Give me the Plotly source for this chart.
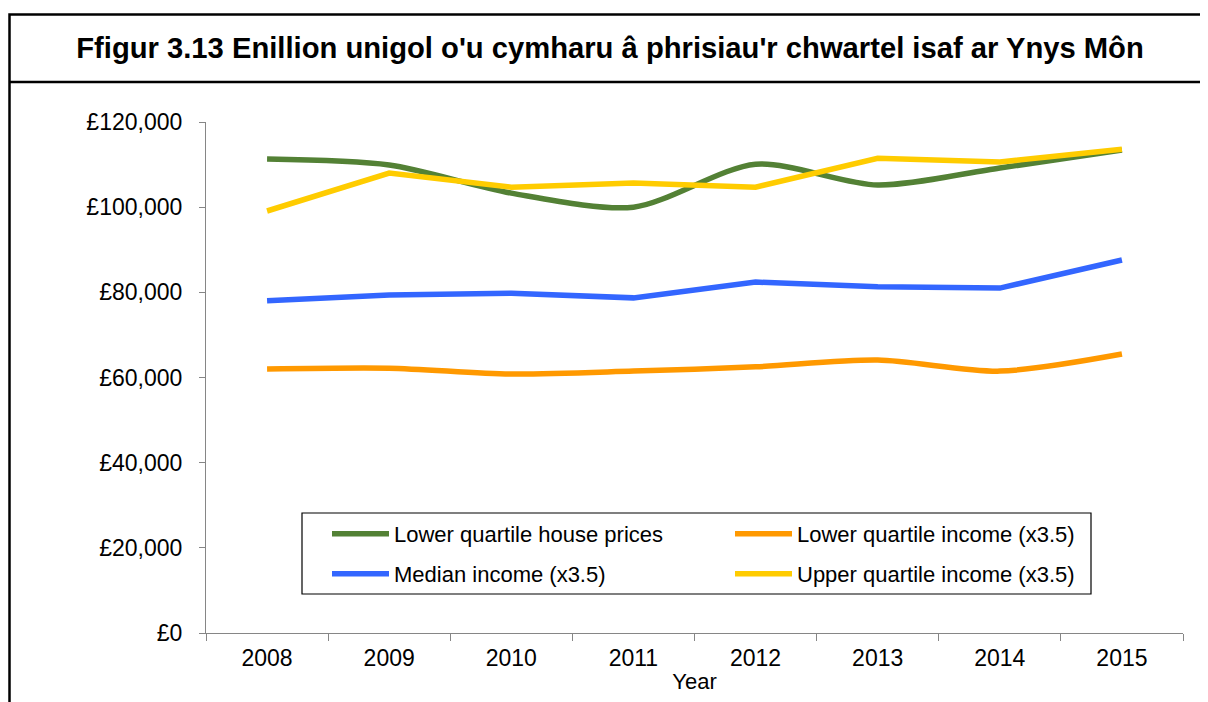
import plotly.graph_objects as go

# data
years = ["2008", "2009", "2010", "2011", "2012", "2013", "2014", "2015"]
house_prices_lq = [111300, 109900, 103300, 100000, 110100, 105200, 109200, 113400]
income_lq = [62000, 62200, 60800, 61500, 62500, 64100, 61500, 65500]
income_median = [78000, 79400, 79800, 78700, 82400, 81300, 81000, 87600]
income_uq = [99100, 108000, 104700, 105700, 104700, 111500, 110600, 113600]
y_ticks = [0, 20000, 40000, 60000, 80000, 100000, 120000]
y_labels = ["£0", "£20,000", "£40,000", "£60,000", "£80,000", "£100,000", "£120,000"]

FONT = "Arial, Liberation Sans, sans-serif"
OFF = 8  # page body margin
W, H = 1208 - OFF, 702 - OFF
# plot area in screen pixels
L, R, T, B = 206, 1183, 122, 633


def px_x(p):
    return (p - L) / (R - L)


def px_y(p):
    return (B - p) / (B - T)


fig = go.Figure()

# legend rows: first two traces in the top row, last two in the bottom row
series = [
    ("Lower quartile house prices", house_prices_lq, "#538135", "spline", "legend"),
    ("Lower quartile income (x3.5)", income_lq, "#FF9900", "spline", "legend"),
    ("Median income (x3.5)", income_median, "#3366FF", "linear", "legend2"),
    ("Upper quartile income (x3.5)", income_uq, "#FFCC00", "linear", "legend2"),
]
for name, vals, col, shape, leg in series:
    fig.add_trace(go.Scatter(
        x=years, y=vals, name=name, mode="lines", legend=leg,
        line=dict(color=col, width=5.5, shape=shape, smoothing=0.8),
    ))

# chart frame and title box
fig.add_shape(type="rect", xref="paper", yref="paper",
              x0=px_x(9.5), x1=px_x(1220), y0=px_y(720), y1=px_y(14.5),
              line=dict(color="black", width=2.5), layer="below")
fig.add_shape(type="line", xref="paper", yref="paper",
              x0=px_x(9.5), x1=px_x(1220), y0=px_y(82), y1=px_y(82),
              line=dict(color="black", width=2.5))
# legend box
fig.add_shape(type="rect", xref="paper", yref="paper",
              x0=px_x(302), x1=px_x(1091), y0=px_y(594), y1=px_y(513),
              line=dict(color="black", width=1.2), fillcolor="white", layer="above")

leg_common = dict(
    orientation="h", entrywidth=331, xanchor="left", yanchor="middle",
    bgcolor="rgba(0,0,0,0)", borderwidth=0, font=dict(size=22), itemwidth=57,
)

fig.update_layout(
    width=W, height=H,
    margin=dict(l=L - OFF, r=W - (R - OFF), t=T - OFF, b=H - (B - OFF), pad=0),
    paper_bgcolor="white", plot_bgcolor="white",
    font=dict(family=FONT, size=22, color="black"),
    title=dict(
        text="<b>Ffigur 3.13 Enillion unigol o'u cymharu â phrisiau'r chwartel isaf ar Ynys Môn</b>",
        font=dict(family=FONT, size=29.2, color="black"),
        x=(610 - OFF) / W, xanchor="center", xref="container",
        y=1 - (48 - OFF) / H, yanchor="middle", yref="container",
    ),
    xaxis=dict(
        type="category", tickson="boundaries", range=[-0.5, 7.5],
        ticks="outside", ticklen=7, tickcolor="#868686",
        showline=True, linecolor="#868686", linewidth=1.2,
        showgrid=False, tickfont=dict(size=23), automargin=False,
        ticklabelstandoff=4,
        title=dict(text="Year", font=dict(size=22), standoff=3),
    ),
    yaxis=dict(
        range=[0, 120000], tickvals=y_ticks, ticktext=y_labels,
        ticks="outside", ticklen=6, tickcolor="#868686",
        showline=True, linecolor="#868686", linewidth=1.2,
        showgrid=False, zeroline=False, tickfont=dict(size=23),
        ticklabelstandoff=12, automargin=False,
    ),
    legend=dict(x=px_x(327), y=px_y(534), **leg_common),
    legend2=dict(x=px_x(327), y=px_y(574), **leg_common),
    showlegend=True,
)

fig.write_html("out.html")
